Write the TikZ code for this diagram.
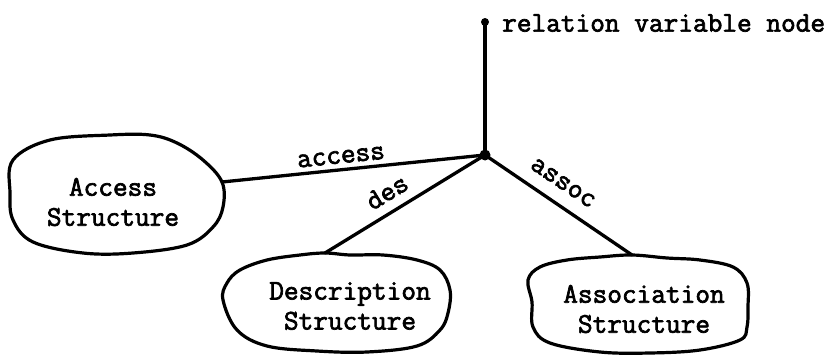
\documentclass[tikz,border=0pt]{standalone}
\usepackage{fontspec}
\newfontfamily\typew{Latin Modern Mono}[FakeBold=2.4]
\begin{document}
\begin{tikzpicture}[x=1pt,y=-1pt,
  edge/.style={line width=3.3pt,line cap=round},
  blob/.style={line width=3.2pt,line join=round},
  dot/.style={circle,fill=black,inner sep=0pt,minimum size=11pt},
  lbl/.style={font=\typew\fontsize{28.5}{30}\selectfont,inner sep=0pt},
  boxtext/.style={font=\typew\fontsize{28.5}{30}\selectfont,align=center,inner sep=0pt}]
\useasboundingbox (0,0) rectangle (838,356);

% central relation node and the variable node above it
\node[dot] (c) at (485,155) {};
\node[dot,minimum size=8pt] (t) at (485,22) {};
\node[lbl,anchor=west] (rvn) at (502,23) {relation variable node};

% outlines of the three structures
\draw[blob] plot[smooth cycle,tension=0.6] coordinates {
  (10,193) (13,160) (50,140) (110,135) (150,135) (177,143) (203,160)
  (222,182) (223,207) (213,227) (187,245) (133,253) (83,253) (33,242) (13,220)};
\draw[blob] plot[smooth cycle,tension=0.6] coordinates {
  (223,300) (227,283) (240,270) (267,260) (300,255) (325,253) (350,255)
  (383,255) (417,260) (440,270) (450,290) (448,313) (440,330) (417,346)
  (367,352) (317,351) (267,346) (237,330)};
\draw[blob] plot[smooth cycle,tension=0.6] coordinates {
  (528,280) (540,267) (567,260) (600,257) (632,255) (667,258) (700,260)
  (733,267) (747,283) (748,307) (747,327) (740,340) (700,350) (650,353)
  (600,352) (550,343) (533,327) (532,302)};

% attachment points on the outlines
\coordinate (acc) at (222,182);
\coordinate (desc) at (325,253);
\coordinate (asc) at (632,255);

% structure names
\node[boxtext] (accname) at (113,202) {Access\\Structure};
\node[boxtext] (descname) at (350,306) {Description\\Structure};
\node[boxtext] (ascname) at (644,309) {Association\\Structure};

% connectors
\draw[edge] (t.center) -- (c.center);
\draw[edge] (acc) -- (c.center);
\draw[edge] (desc) -- (c.center);
\draw[edge] (asc) -- (c.center);

% connector labels
\node[lbl,rotate=5.9] (accl) at (341,157) {access};
\node[lbl,rotate=31.5] (desl) at (387,192) {des};
\node[lbl,rotate=-34] (ascl) at (563,183) {assoc};
\end{tikzpicture}
\end{document}
